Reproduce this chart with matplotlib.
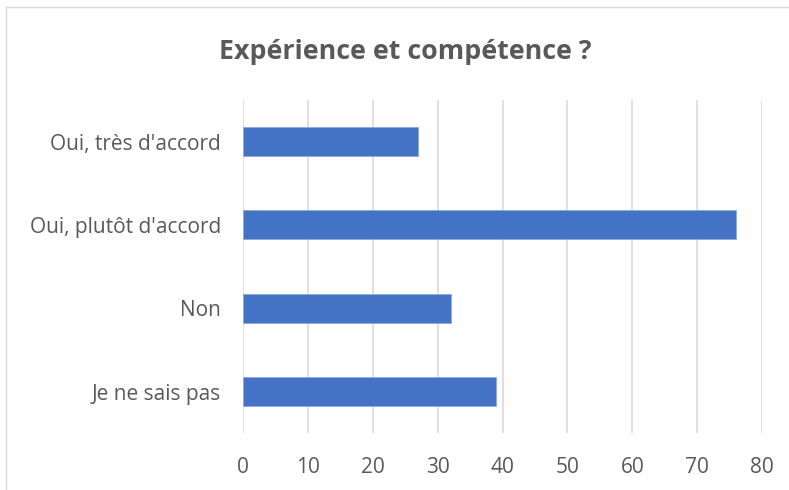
import matplotlib.pyplot as plt
from matplotlib.patches import Rectangle

categories = ["Oui, très d'accord", "Oui, plutôt d'accord", "Non", "Je ne sais pas"]
values = [27, 76, 32, 39]
xticks = [0, 10, 20, 30, 40, 50, 60, 70, 80]

plt.rcParams['font.family'] = ['Open Sans', 'DejaVu Sans']

fig = plt.figure(figsize=(7.89, 4.90), dpi=100)
ax = fig.add_axes([0.308, 0.116, 0.658, 0.680])

pos = list(range(len(categories)))
ax.barh(pos, values, height=0.35, color='#4472c4', edgecolor='#8faadc', linewidth=0.6, zorder=3)
ax.set_ylim(3.5, -0.5)
ax.set_xlim(0, 80)
ax.set_yticks(pos)
ax.set_yticklabels(categories, fontsize=15, color='#595959')
ax.set_xticks(xticks)
ax.set_xticklabels([str(t) for t in xticks], fontsize=15, color='#595959')
ax.tick_params(length=0)
ax.tick_params(axis='y', pad=16)
ax.tick_params(axis='x', pad=17)
ax.xaxis.grid(True, color='#d9d9d9', linewidth=1.2, zorder=0)
for s in ax.spines.values():
    s.set_visible(False)

fig.text(0.513, 0.893, "Expérience et compétence ?", ha='center', va='center',
         fontsize=19.3, fontweight='bold', color='#595959')

# chart border, running off the right and bottom
fig.patches.append(Rectangle((6 / 789, -0.05), 1.1, (490 - 7) / 490 + 0.05,
                             transform=fig.transFigure, fill=False,
                             edgecolor='#d9d9d9', linewidth=1.0))

fig.savefig('out.png', dpi=100)
